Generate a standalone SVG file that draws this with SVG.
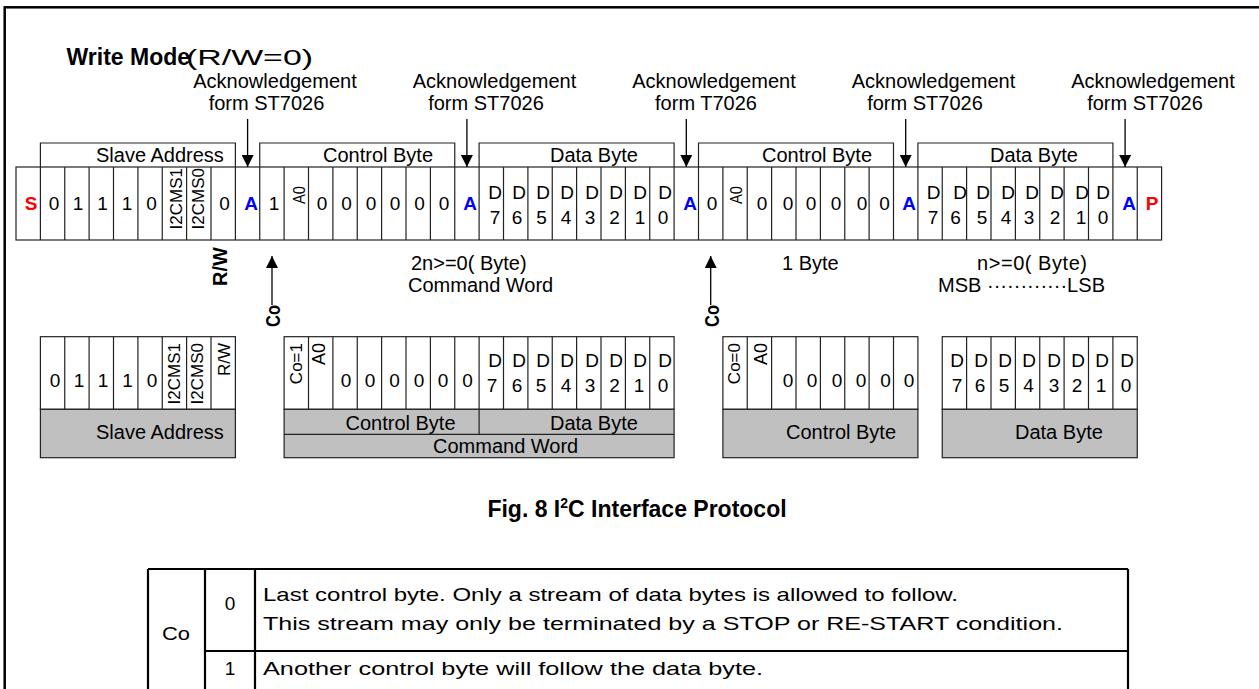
<svg xmlns="http://www.w3.org/2000/svg" width="1259" height="689" viewBox="0 0 1259 689">
<style>
text{font-family:"Liberation Sans",Arial,sans-serif;fill:#000}
.l{font-size:20px}
.d{font-size:19px;text-anchor:middle}
.k{font-size:19px;font-weight:bold;text-anchor:middle}
.red{fill:#ff0000}
.blu{fill:#0000ff}
.r{font-size:17px}
.c{stroke:#222;stroke-width:1.2;fill:none}
.g{fill:#c0c0c0;stroke:#222;stroke-width:1.2}
.w{fill:#fff;stroke:#222;stroke-width:1.2}
.m{text-anchor:middle}
.e{text-anchor:end}
.cn{stroke:#000;stroke-width:1.3;fill:none}
.tb{stroke:#000;stroke-width:2.2;fill:none}
</style>
<defs>
<marker id="ah" markerUnits="userSpaceOnUse" markerWidth="12" markerHeight="12" refX="12" refY="6" orient="auto">
<path d="M0,0 L12,6 L0,12 z" fill="#000"/>
</marker>
</defs>
<rect x="0" y="0" width="1259" height="689" fill="#fff"/>
<rect id="frame" x="4.7" y="7.3" width="1300" height="720" fill="none" stroke="#000" stroke-width="2.5"/>

<g id="title">
<text x="66.5" y="65" style="font-size:23px;font-weight:bold">Write Mode</text>
<text x="186" y="65" style="font-size:22px" textLength="127" lengthAdjust="spacingAndGlyphs">(R/W=0)</text>
</g>

<g id="ack-labels" class="l">
<text class="m" x="275" y="88">Acknowledgement</text><text class="m" x="266.5" y="110">form ST7026</text>
<text class="m" x="494.5" y="88">Acknowledgement</text><text class="m" x="486" y="110">form ST7026</text>
<text class="m" x="714" y="88">Acknowledgement</text><text class="m" x="706" y="110">form T7026</text>
<text class="m" x="933.5" y="88">Acknowledgement</text><text class="m" x="925" y="110">form ST7026</text>
<text class="m" x="1153" y="88">Acknowledgement</text><text class="m" x="1145" y="110">form ST7026</text>
</g>

<g id="headers">
<path class="c" d="M40.4,167 V143 H235.4 V167 M259.75,167 V143 H454.75 V167 M479.1,167 V143 H674.1 V167 M698.5,167 V143 H893.5 V167 M917.9,167 V143 H1112.9 V167"/>
<text class="l" x="96" y="161.5">Slave Address</text>
<text class="l" x="323" y="161.5">Control Byte</text>
<text class="l" x="550" y="161.5">Data Byte</text>
<text class="l" x="762" y="161.5">Control Byte</text>
<text class="l" x="990" y="161.5">Data Byte</text>
</g>

<g id="bit-row">
<rect class="w" x="16" y="167" width="1145.6" height="73"/>
<path class="c" d="M40.4,167V240M64.75,167V240M89.1,167V240M113.5,167V240M137.9,167V240M162.25,167V240M186.6,167V240M211,167V240M235.4,167V240M259.75,167V240M284.1,167V240M308.5,167V240M332.9,167V240M357.25,167V240M381.6,167V240M406,167V240M430.4,167V240M454.75,167V240M479.1,167V240M503.5,167V240M527.9,167V240M552.25,167V240M576.6,167V240M601,167V240M625.4,167V240M649.75,167V240M674.1,167V240M698.5,167V240M722.9,167V240M747.25,167V240M771.6,167V240M796,167V240M820.4,167V240M844.75,167V240M869.1,167V240M893.5,167V240M917.9,167V240M942.25,167V240M966.6,167V240M991,167V240M1015.4,167V240M1039.75,167V240M1064.1,167V240M1088.5,167V240M1112.9,167V240M1137.25,167V240"/>
<text class="k red" x="31" y="210">S</text>
<text class="d" x="54" y="210">0</text><text class="d" x="78" y="210">1</text><text class="d" x="102.5" y="210">1</text><text class="d" x="127" y="210">1</text><text class="d" x="151.5" y="210">0</text>
<text class="r e" transform="translate(181.5,168) rotate(-90)">I2CMS1</text>
<text class="r e" transform="translate(204,168) rotate(-90)">I2CMS0</text>
<text class="d" x="224.5" y="210">0</text>
<text class="k blu" x="251" y="210">A</text>
<text class="d" x="274" y="210">1</text>
<text class="m" style="font-size:17px" transform="translate(305,195) rotate(-90)" textLength="18" lengthAdjust="spacingAndGlyphs">A0</text>
<text class="d" x="322" y="210">0</text><text class="d" x="346.5" y="210">0</text><text class="d" x="371" y="210">0</text><text class="d" x="395" y="210">0</text><text class="d" x="419.5" y="210">0</text><text class="d" x="444" y="210">0</text>
<text class="k blu" x="470" y="210">A</text>
<g class="d">
<text x="495" y="198.5">D</text><text x="495" y="223.5">7</text>
<text x="519" y="198.5">D</text><text x="517" y="223.5">6</text>
<text x="543" y="198.5">D</text><text x="541.5" y="223.5">5</text>
<text x="567" y="198.5">D</text><text x="566" y="223.5">4</text>
<text x="592" y="198.5">D</text><text x="590" y="223.5">3</text>
<text x="616" y="198.5">D</text><text x="614.5" y="223.5">2</text>
<text x="640" y="198.5">D</text><text x="640" y="223.5">1</text>
<text x="665" y="198.5">D</text><text x="663" y="223.5">0</text>
</g>
<text class="k blu" x="690" y="210">A</text>
<text class="d" x="712" y="210">0</text>
<text class="m" style="font-size:17px" transform="translate(742,195) rotate(-90)" textLength="18" lengthAdjust="spacingAndGlyphs">A0</text>
<text class="d" x="762" y="210">0</text><text class="d" x="788" y="210">0</text><text class="d" x="811" y="210">0</text><text class="d" x="836" y="210">0</text><text class="d" x="862" y="210">0</text><text class="d" x="884.5" y="210">0</text>
<text class="k blu" x="909" y="210">A</text>
<g class="d">
<text x="933.5" y="198.5">D</text><text x="933" y="223.5">7</text>
<text x="960" y="198.5">D</text><text x="955.5" y="223.5">6</text>
<text x="983" y="198.5">D</text><text x="982" y="223.5">5</text>
<text x="1008" y="198.5">D</text><text x="1006" y="223.5">4</text>
<text x="1032" y="198.5">D</text><text x="1029" y="223.5">3</text>
<text x="1057" y="198.5">D</text><text x="1055" y="223.5">2</text>
<text x="1082" y="198.5">D</text><text x="1081" y="223.5">1</text>
<text x="1103" y="198.5">D</text><text x="1103" y="223.5">0</text>
</g>
<text class="k blu" x="1129" y="210">A</text>
<text class="k red" x="1152" y="210">P</text>
</g>

<g id="row-notes" class="l">
<text style="font-size:20px;font-weight:bold" class="e" transform="translate(226.7,247) rotate(-90)">R/W</text>
<text x="411" y="270">2n&gt;=0( Byte)</text>
<text x="408" y="291.5">Command Word</text>
<text x="782" y="270">1 Byte</text>
<text x="977" y="270" textLength="110" lengthAdjust="spacing">n&gt;=0( Byte)</text>
<text x="938" y="291.5" textLength="167" lengthAdjust="spacingAndGlyphs">MSB ············LSB</text>
<text style="font-size:20px;font-weight:bold" class="e" transform="translate(280,305) rotate(-90)" textLength="22" lengthAdjust="spacingAndGlyphs">Co</text>
<text style="font-size:20px;font-weight:bold" class="e" transform="translate(719,305) rotate(-90)" textLength="22" lengthAdjust="spacingAndGlyphs">Co</text>
</g>

<g id="slave-address-block">
<rect class="w" x="40.4" y="336.7" width="195" height="72.6"/>
<rect class="g" x="40.4" y="409.3" width="195" height="48.4"/>
<path class="c" d="M64.75,336.7V409.3M89.1,336.7V409.3M113.5,336.7V409.3M137.9,336.7V409.3M162.25,336.7V409.3M186.6,336.7V409.3M211,336.7V409.3"/>
<g class="d"><text x="55" y="387">0</text><text x="79" y="387">1</text><text x="103" y="387">1</text><text x="127.5" y="387">1</text><text x="152" y="387">0</text></g>
<text class="r e" transform="translate(180,343) rotate(-90)">I2CMS1</text>
<text class="r e" transform="translate(203,343) rotate(-90)">I2CMS0</text>
<text class="r e" transform="translate(230,343) rotate(-90)">R/W</text>
<text class="l" x="96" y="438.5">Slave Address</text>
</g>

<g id="command-word-block">
<rect class="w" x="284.1" y="336.7" width="390" height="72.6"/>
<rect class="g" x="284.1" y="409.3" width="390" height="48.4"/>
<path class="c" d="M284.1,434.3H674.1M479.1,409.3V434.3"/>
<path class="c" d="M308.5,336.7V409.3M332.9,336.7V409.3M357.25,336.7V409.3M381.6,336.7V409.3M406,336.7V409.3M430.4,336.7V409.3M454.75,336.7V409.3M479.1,336.7V409.3M503.5,336.7V409.3M527.9,336.7V409.3M552.25,336.7V409.3M576.6,336.7V409.3M601,336.7V409.3M625.4,336.7V409.3M649.75,336.7V409.3"/>
<text class="r e" transform="translate(301.7,343) rotate(-90)">Co=1</text>
<text class="e" style="font-size:18px" transform="translate(325,343) rotate(-90)">A0</text>
<g class="d"><text x="346" y="387">0</text><text x="370" y="387">0</text><text x="394.5" y="387">0</text><text x="419" y="387">0</text><text x="443" y="387">0</text><text x="467.5" y="387">0</text></g>
<g class="d">
<text x="495" y="366.5">D</text><text x="492" y="391.5">7</text>
<text x="519" y="366.5">D</text><text x="517" y="391.5">6</text>
<text x="543" y="366.5">D</text><text x="541" y="391.5">5</text>
<text x="567" y="366.5">D</text><text x="566" y="391.5">4</text>
<text x="592" y="366.5">D</text><text x="590" y="391.5">3</text>
<text x="616" y="366.5">D</text><text x="614.5" y="391.5">2</text>
<text x="640" y="366.5">D</text><text x="639" y="391.5">1</text>
<text x="665" y="366.5">D</text><text x="663" y="391.5">0</text>
</g>
<text class="l" x="345.5" y="429.5">Control Byte</text>
<text class="l" x="550" y="429.5">Data Byte</text>
<text class="l" x="433" y="452.5">Command Word</text>
</g>

<g id="control-byte-block">
<rect class="w" x="722.9" y="336.7" width="195" height="72.6"/>
<rect class="g" x="722.9" y="409.3" width="195" height="48.4"/>
<path class="c" d="M747.25,336.7V409.3M771.6,336.7V409.3M796,336.7V409.3M820.4,336.7V409.3M844.75,336.7V409.3M869.1,336.7V409.3M893.5,336.7V409.3"/>
<text class="r e" transform="translate(740,343) rotate(-90)">Co=0</text>
<text class="e" style="font-size:18px" transform="translate(767,343) rotate(-90)">A0</text>
<g class="d"><text x="788" y="387">0</text><text x="812" y="387">0</text><text x="837" y="387">0</text><text x="861" y="387">0</text><text x="885.5" y="387">0</text><text x="909" y="387">0</text></g>
<text class="l" x="786" y="439">Control Byte</text>
</g>

<g id="data-byte-block">
<rect class="w" x="942.25" y="336.7" width="195" height="72.6"/>
<rect class="g" x="942.25" y="409.3" width="195" height="48.4"/>
<path class="c" d="M966.6,336.7V409.3M991,336.7V409.3M1015.4,336.7V409.3M1039.75,336.7V409.3M1064.1,336.7V409.3M1088.5,336.7V409.3M1112.9,336.7V409.3"/>
<g class="d">
<text x="957" y="366.5">D</text><text x="957" y="391.5">7</text>
<text x="981" y="366.5">D</text><text x="980" y="391.5">6</text>
<text x="1005" y="366.5">D</text><text x="1004" y="391.5">5</text>
<text x="1029" y="366.5">D</text><text x="1028.5" y="391.5">4</text>
<text x="1054" y="366.5">D</text><text x="1054" y="391.5">3</text>
<text x="1078" y="366.5">D</text><text x="1077" y="391.5">2</text>
<text x="1102" y="366.5">D</text><text x="1101" y="391.5">1</text>
<text x="1127" y="366.5">D</text><text x="1126" y="391.5">0</text>
</g>
<text class="l" x="1015" y="439">Data Byte</text>
</g>

<g id="connectors">
<line class="cn" x1="247.6" y1="119" x2="247.6" y2="167" marker-end="url(#ah)"/>
<line class="cn" x1="466.9" y1="119" x2="466.9" y2="167" marker-end="url(#ah)"/>
<line class="cn" x1="686.3" y1="119" x2="686.3" y2="167" marker-end="url(#ah)"/>
<line class="cn" x1="905.7" y1="119" x2="905.7" y2="167" marker-end="url(#ah)"/>
<line class="cn" x1="1125.1" y1="119" x2="1125.1" y2="167" marker-end="url(#ah)"/>
<line class="cn" x1="272" y1="305" x2="272" y2="256" marker-end="url(#ah)"/>
<line class="cn" x1="710.7" y1="305" x2="710.7" y2="256" marker-end="url(#ah)"/>
</g>

<g id="caption">
<text x="637" y="517" text-anchor="middle" style="font-size:23px;font-weight:bold">Fig. 8 I<tspan dy="-9" style="font-size:14px">2</tspan><tspan dy="9">C Interface Protocol</tspan></text>
</g>

<g id="co-table">
<path class="tb" d="M148,569H1128M148,569V700M1128,569V700M205,569V700M255,569V700M205,651H1128"/>
<text x="176" y="640" text-anchor="middle" style="font-size:19px" textLength="28" lengthAdjust="spacingAndGlyphs">Co</text>
<text x="230" y="610" text-anchor="middle" style="font-size:19px">0</text>
<text x="230" y="675" text-anchor="middle" style="font-size:19px">1</text>
<text x="263" y="601" style="font-size:19px" textLength="695" lengthAdjust="spacingAndGlyphs">Last control byte. Only a stream of data bytes is allowed to follow.</text>
<text x="263" y="630" style="font-size:19px" textLength="800" lengthAdjust="spacingAndGlyphs">This stream may only be terminated by a STOP or RE-START condition.</text>
<text x="263" y="675" style="font-size:19px" textLength="500" lengthAdjust="spacingAndGlyphs">Another control byte will follow the data byte.</text>
</g>
</svg>
